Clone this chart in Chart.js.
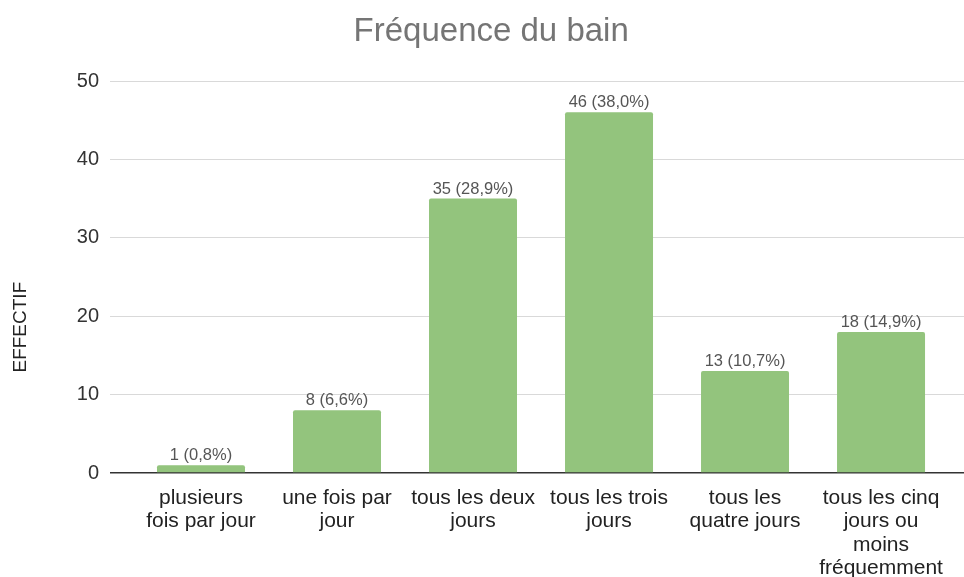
<!DOCTYPE html>
<html>
<head>
<meta charset="utf-8">
<script src="https://cdn.jsdelivr.net/npm/chart.js@4.4.1/dist/chart.umd.min.js"></script>
<style>
  html, body { margin: 0; padding: 0; background: #ffffff; }
  #wrap { width: 964px; height: 577px; }
</style>
</head>
<body>
<div id="wrap"><canvas id="c" width="964" height="577"></canvas></div>
<script>
// ---- data ----
const chartTitle = "Fréquence du bain";
const yAxisTitle = "EFFECTIF";
const categoryLines = [
  ["plusieurs", "fois par jour"],
  ["une fois par", "jour"],
  ["tous les deux", "jours"],
  ["tous les trois", "jours"],
  ["tous les", "quatre jours"],
  ["tous les cinq", "jours ou", "moins", "fréquemment"]
];
const counts = [1, 8, 35, 46, 13, 18];
const yTicks = [0, 10, 20, 30, 40, 50];

// ---- helpers ----
const total = counts.reduce((a, b) => a + b, 0);
const pctLabel = v => v + " (" + (v / total * 100).toFixed(1).replace(".", ",") + "%)";
const points = counts.map((v, i) => ({ x: i, y: v }));
const FONT = "'Liberation Sans', Arial, sans-serif";

const dataLabels = {
  id: "dataLabels",
  afterDatasetsDraw(chart) {
    const ctx = chart.ctx;
    const meta = chart.getDatasetMeta(0);
    ctx.save();
    ctx.font = "16.5px " + FONT;
    ctx.fillStyle = "#555555";
    ctx.textAlign = "center";
    ctx.textBaseline = "alphabetic";
    meta.data.forEach((bar, i) => {
      ctx.fillText(pctLabel(counts[i]), bar.x, bar.y - 5);
    });
    ctx.restore();
  }
};

new Chart(document.getElementById("c"), {
  type: "bar",
  data: {
    datasets: [{
      data: points,
      backgroundColor: "#93c47d",
      borderWidth: 0,
      borderRadius: { topLeft: 2, topRight: 2, bottomLeft: 0, bottomRight: 0 },
      borderSkipped: false,
      categoryPercentage: 1,
      barPercentage: 0.647
    }]
  },
  options: {
    responsive: false,
    animation: false,
    layout: { padding: 0 },
    plugins: {
      legend: { display: false },
      tooltip: { enabled: false },
      title: {
        display: true,
        text: "\u00A0\u00A0" + chartTitle,
        color: "#757575",
        font: { family: FONT, size: 33, weight: "normal" },
        padding: { top: 12, bottom: 29.4 }
      }
    },
    scales: {
      x: {
        type: "linear",
        offset: false,
        min: -0.669,
        max: 5.61,
        grid: { display: false, offset: false },
        border: { display: false },
        afterBuildTicks: s => { s.ticks = counts.map((_, i) => ({ value: i })); },
        afterFit: s => { s.height = 104; },
        ticks: {
          autoSkip: false,
          maxRotation: 0,
          padding: 6,
          color: "#222222",
          font: { family: FONT, size: 21, lineHeight: 1.1 },
          callback: v => categoryLines[v]
        }
      },
      y: {
        min: yTicks[0],
        max: yTicks[yTicks.length - 1],
        afterBuildTicks: s => { s.ticks = yTicks.map(v => ({ value: v })); },
        afterFit: s => { s.width = 110; },
        border: { display: false },
        grid: {
          drawTicks: false,
          color: c => (c.tick && c.tick.value === 0) ? "#333333" : "#d9d9d9",
          lineWidth: c => (c.tick && c.tick.value === 0) ? 1.5 : 1
        },
        ticks: {
          padding: 11,
          color: "#333333",
          font: { family: FONT, size: 20 }
        },
        title: {
          display: true,
          text: yAxisTitle + "\u00A0".repeat(19),
          color: "#222222",
          font: { family: FONT, size: 19 },
          padding: { top: 9, bottom: 0 }
        }
      }
    }
  },
  plugins: [dataLabels]
});
</script>
</body>
</html>
